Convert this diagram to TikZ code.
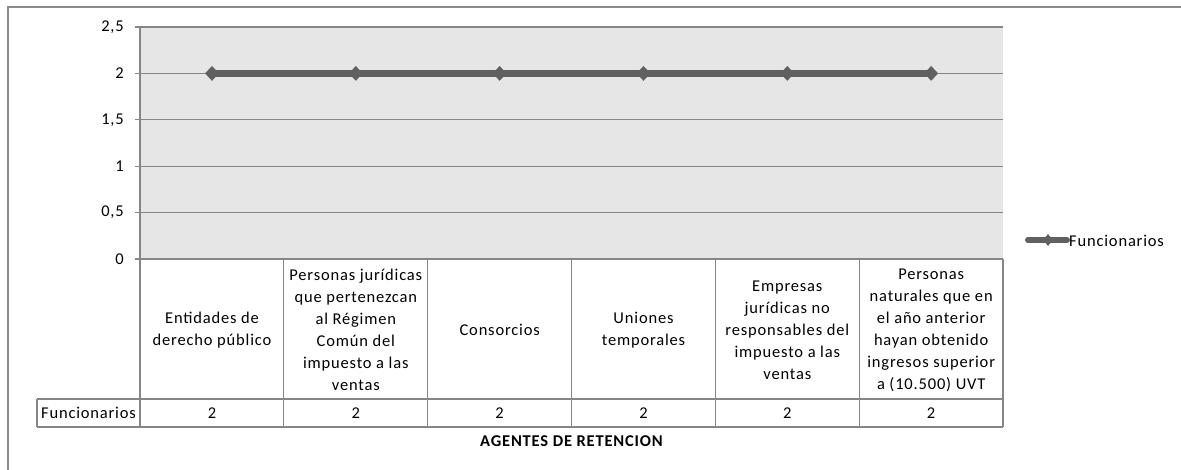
\documentclass[tikz,border=0pt]{standalone}
\usepackage{fontspec}
\setmainfont{Carlito}[LetterSpace=5]
\usetikzlibrary{shapes.geometric}
\definecolor{gridc}{HTML}{868686}
\definecolor{plotbg}{HTML}{E6E6E6}
\definecolor{seriesc}{HTML}{606060}
\definecolor{framec}{HTML}{8C8C8C}
\definecolor{txt}{HTML}{000000}
\begin{document}
\begin{tikzpicture}[x=1pt,y=-1pt,
  lbl/.style={font=\fontsize{16.5}{22}\selectfont, text=txt, inner sep=0pt, align=center},
  ylbl/.style={lbl, anchor=east},
  gridln/.style={draw=gridc, line width=1.2pt},
  marker/.style={diamond, fill=seriesc, inner sep=0pt, minimum width=14pt, minimum height=15pt},
  series/.style={draw=seriesc, line width=7pt},
]
\useasboundingbox (0,0) rectangle (1181,470);
\fill[white] (0,0) rectangle (1181,470);
\draw[framec, line width=1.5pt] (8,470) -- (8,7) -- (1181,7);
% plot area
\fill[plotbg] (140,27) rectangle (1003,259);
\foreach \i/\v in {0/0, 1/{0,5}, 2/1, 3/{1,5}, 4/2, 5/{2,5}} {
  \draw[gridln] (135,{259-46.4*\i}) -- (1003,{259-46.4*\i});
  \node[ylbl] (y\i) at (124,{259-46.4*\i}) {\v};
}
\draw[gridln] (140,27) -- (140,259);
% table
\foreach \k in {0,...,6} {
  \draw[gridln] ({140+143.83*\k},259) -- ({140+143.83*\k},427);
}
\draw[gridln] (37,399) -- (1003,399);
\draw[gridln] (37,427) -- (1003,427);
\draw[gridln] (37,399) -- (37,427);
% categories
\node[lbl] (c1) at (212,330) {Entidades de\\derecho público};
\node[lbl] (c2) at (355.8,330) {Personas jurídicas\\que pertenezcan\\al Régimen\\Común del\\impuesto a las\\ventas};
\node[lbl] (c3) at (499.7,330) {Consorcios};
\node[lbl] (c4) at (643.5,330) {Uniones\\temporales};
\node[lbl] (c5) at (787.3,330) {Empresas\\jurídicas no\\responsables del\\impuesto a las\\ventas};
\node[lbl] (c6) at (931.2,330) {Personas\\naturales que en\\el año anterior\\hayan obtenido\\ingresos superior\\a (10.500) UVT};
% values row
\node[lbl] (rowlbl) at (88.5,413) {Funcionarios};
\foreach \k in {0,...,5} {
  \node[lbl] (v\k) at ({212+143.83*\k},413) {2};
}
% series
\foreach \k in {0,...,5} {
  \coordinate (p\k) at ({212+143.83*\k},73.4);
}
\draw[series] (p0) -- (p5);
\foreach \k in {0,...,5} {
  \node[marker] (m\k) at (p\k) {};
}
% legend
\coordinate (la) at (1028,240);
\coordinate (lb) at (1067,240);
\draw[seriesc, line width=6pt, line cap=round] (la) -- (lb);
\node[marker, minimum width=10pt, minimum height=12pt] (lm) at (1048,240) {};
\node[lbl, anchor=west] (leg) at (1069,241) {Funcionarios};
% axis title
\node[lbl, font=\fontsize{16.5}{22}\selectfont\bfseries] (title) at (571.5,441) {AGENTES DE RETENCION};
\end{tikzpicture}
\end{document}
